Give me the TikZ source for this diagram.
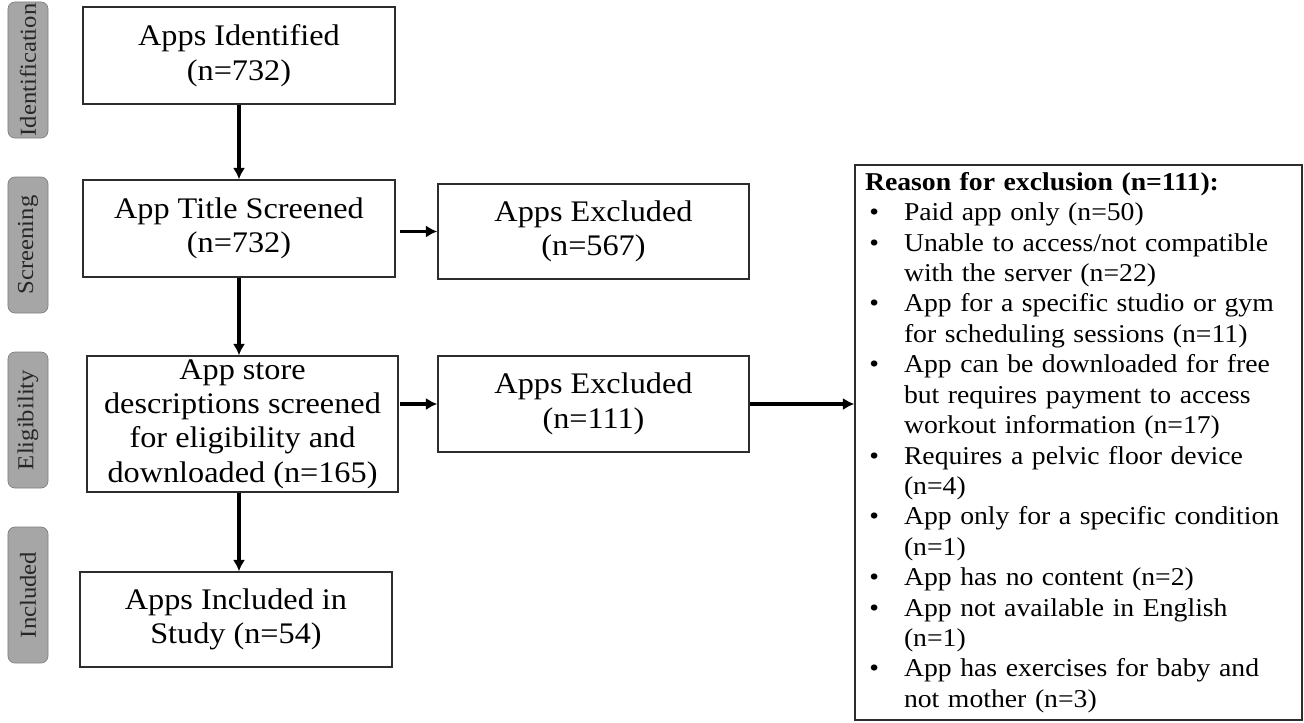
\documentclass[tikz,border=0pt]{standalone}
\usepackage{fontspec}
\setmainfont[FakeStretch=1.08]{Liberation Serif}
\usepackage{enumitem}
\usetikzlibrary{arrows.meta,calc}
\tikzset{>={Latex[length=6.5pt,width=7pt]}}
\definecolor{stagegray}{RGB}{166,166,166}
\definecolor{stageline}{RGB}{127,127,127}
\definecolor{boxline}{RGB}{45,45,45}
\tikzset{
	box/.style={draw=boxline, line width=0.8pt, minimum width=6.24cm, minimum height=1.94cm, inner sep=0pt, align=center, font=\fontsize{17}{19.6}\selectfont},
	stage/.style={draw=stageline, fill=stagegray, rounded corners=4pt, rotate=90, minimum width=2.72cm, minimum height=0.8cm, inner sep=0pt, text=black!85, font=\fontsize{13}{14}\selectfont},
	flow/.style={->, line width=2.1pt},
}

\begin{document}
\begin{tikzpicture}
	\useasboundingbox (0,0) rectangle (26.08,-14.46);

	% stage labels
	\node[stage] (sId) at (0.56,-1.40) {Identification};
	\node[stage] (sScr) at (0.56,-4.90) {Screening};
	\node[stage] (sEl) at (0.56,-8.40) {Eligibility};
	\node[stage] (sInc) at (0.56,-11.90) {Included};

	% main column
	\node[box] (ident) at (4.78,-1.11) {Apps Identified\\(n=732)};
	\node[box] (title) at (4.78,-4.57) {App Title Screened\\(n=732)};
	\node[box, minimum width=6.22cm, minimum height=2.72cm] (store) at (4.85,-8.48) {App store\\descriptions screened\\for eligibility and\\downloaded (n=165)};
	\node[box, minimum height=1.90cm] (incl) at (4.72,-12.39) {Apps Included in\\Study (n=54)};

	% exclusions
	\node[box, minimum width=6.22cm, minimum height=1.90cm] (exA) at (11.87,-4.63) {Apps Excluded\\(n=567)};
	\node[box, minimum width=6.22cm, minimum height=1.92cm] (exB) at (11.87,-8.08) {Apps Excluded\\(n=111)};

	\node[draw=boxline, line width=0.8pt, minimum width=8.94cm, minimum height=11.1cm, inner xsep=0.2cm, inner ysep=0pt, text width=8.54cm, align=left, font=\fontsize{14.6}{17.3}\selectfont] (why) at (21.57,-8.85) {%
		\textbf{Reason for exclusion (n=111):}
		\begin{itemize}[leftmargin=0.78cm, labelsep=0.5cm, label=\textbullet, topsep=0pt, itemsep=0pt, parsep=0pt, partopsep=0pt]
			\item Paid app only (n=50)
			\item Unable to access/not compatible\newline with the server (n=22)
			\item App for a specific studio or gym\newline for scheduling sessions (n=11)
			\item App can be downloaded for free\newline but requires payment to access\newline workout information (n=17)
			\item Requires a pelvic floor device\newline (n=4)
			\item App only for a specific condition\newline (n=1)
			\item App has no content (n=2)
			\item App not available in English\newline (n=1)
			\item App has exercises for baby and\newline not mother (n=3)
		\end{itemize}};

	% arrows
	\draw[flow] (ident.south -| title.north) -- (title.north);
	\draw[flow] (title.south) -- (title.south |- store.north);
	\draw[flow] (store.south -| title.south) -- (incl.north -| title.south);
	\draw[flow] ($(exA.west)+(-0.74,0)$) -- (exA.west);
	\draw[flow] ($(exB.west)+(-0.74,0)$) -- (exB.west);
	\draw[flow] (exB.east) -- (exB.east -| why.west);
\end{tikzpicture}
\end{document}
